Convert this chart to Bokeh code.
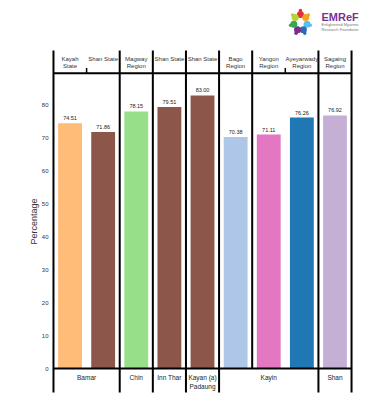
import math
from bokeh.plotting import figure
from bokeh.layouts import column
from bokeh.models import Range1d, FixedTicker
from bokeh.core.properties import value
from bokeh.embed import file_html
from bokeh.resources import INLINE

# ---- data ----
states = ["Kayah\nState", "Shan State", "Magway\nRegion", "Shan State", "Shan State",
          "Bago\nRegion", "Yangon\nRegion", "Ayeyarwady\nRegion", "Sagaing\nRegion"]
percentages = [74.51, 71.86, 78.15, 79.51, 83.00, 70.38, 71.11, 76.26, 76.92]
ethnic_groups = ["Bamar", "Bamar", "Chin", "Inn Thar", "Kayan (a)\nPadaung",
                 "Kayin", "Kayin", "Kayin", "Shan"]
bar_colors = ["#ffbb78", "#8c564b", "#98df8a", "#8c564b", "#8c564b",
              "#aec7e8", "#e377c2", "#1f77b4", "#c5b0d5"]
y_ticks = [0, 10, 20, 30, 40, 50, 60, 70, 80]

FONT = value("Liberation Sans")
n = len(percentages)
idx = list(range(n))

# ---- logo figure ----
logo = figure(width=366, height=48, x_range=Range1d(0, 366), y_range=Range1d(48, 0),
              output_backend="svg", toolbar_location=None,
              x_axis_location=None, y_axis_location=None,
              min_border=0)
logo.outline_line_color = None
logo.xgrid.visible = False
logo.ygrid.visible = False
ring_colors = ["#e0303a", "#f7a21b", "#5bc0eb", "#2b6cb0", "#7b2d8e", "#3aa655", "#b5d334"]
cx, cy, r = 297, 22, 8
xs = [cx + r * math.sin(2 * math.pi * k / 7) for k in range(7)]
ys = [cy - r * math.cos(2 * math.pi * k / 7) for k in range(7)]
logo.scatter(xs, ys, size=7, color=ring_colors, line_color=None)
xs2 = [cx + (r + 4) * math.sin(2 * math.pi * k / 7) for k in range(7)]
ys2 = [cy - (r + 4) * math.cos(2 * math.pi * k / 7) for k in range(7)]
logo.scatter(xs2, ys2, size=3.5, color=ring_colors, line_color=None)
logo.text(x=[322], y=[16], text=["EMReF"], text_font=FONT, text_font_size="11px",
          text_font_style="bold", text_color="#7b3294", text_baseline="middle")
logo.text(x=[322, 322], y=[24, 29], text=["Enlightened Myanmar", "Research Foundation"],
          text_font=FONT, text_font_size="4px", text_color="#777777", text_baseline="middle")

# ---- main chart ----
p = figure(width=366, height=346, x_range=Range1d(-0.59, 8.71), y_range=Range1d(-7.9, 97.26),
           output_backend="svg", toolbar_location=None, x_axis_location=None,
           min_border_left=50, min_border_right=8, min_border_top=0, min_border_bottom=0)
p.outline_line_color = None
p.xgrid.visible = False
p.ygrid.visible = False

p.vbar(x=idx, top=percentages, width=0.72, fill_color=bar_colors, line_color=None)

p.text(x=idx, y=percentages, text=[f"{v:.2f}" for v in percentages], text_font=FONT,
       text_font_size="5.5px", text_color="#222222", text_align="center",
       text_baseline="bottom", y_offset=-3)

# header labels
header_top = 95.1
p.text(x=idx, y=[header_top] * n, text=states, text_font=FONT, text_font_size="6px",
       text_color="#333333", text_align="center", text_baseline="top", text_line_height=1.3)

# group boundaries
bounds = [-0.5] + [i + 0.5 for i in range(n - 1) if ethnic_groups[i] != ethnic_groups[i + 1]] + [n - 0.5]
top_y, bottom_y, header_line_y = 96.66, -7.3, 89.7
p.segment(x0=bounds, y0=[bottom_y] * len(bounds), x1=bounds, y1=[top_y] * len(bounds),
          line_color="black", line_width=2)
inner_full = [5.5]
p.segment(x0=inner_full, y0=[0], x1=inner_full, y1=[top_y], line_color="black", line_width=2)
inner_ticks = [0.5, 6.5]
p.segment(x0=inner_ticks, y0=[header_line_y] * 2, x1=inner_ticks, y1=[91.3] * 2,
          line_color="black", line_width=1.5)
p.segment(x0=[-0.5, -0.5], y0=[header_line_y, 0], x1=[n - 0.5, n - 0.5], y1=[header_line_y, 0],
          line_color="black", line_width=2)

# group labels
centers, names = [], []
for a, b in zip(bounds[:-1], bounds[1:]):
    centers.append((a + b) / 2)
    names.append(ethnic_groups[int(a + 0.5)])
p.text(x=centers, y=[-1.8] * len(centers), text=names, text_font=FONT, text_font_size="6.5px",
       text_color="#222222", text_align="center", text_baseline="top", text_line_height=1.2)

ax = p.yaxis[0]
ax.ticker = FixedTicker(ticks=y_ticks)
ax.axis_line_color = None
ax.major_tick_line_color = None
ax.minor_tick_line_color = None
ax.major_tick_out = 0
ax.major_tick_in = 0
ax.major_label_standoff = 2
ax.major_label_text_font = "Liberation Sans"
ax.major_label_text_font_size = "6px"
ax.major_label_text_color = "#333333"
ax.axis_label = "Percentage"
ax.axis_label_text_font = "Liberation Sans"
ax.axis_label_text_font_size = "9px"
ax.axis_label_text_font_style = "normal"
ax.axis_label_text_color = "#333333"
ax.axis_label_standoff = 0

layout = column(logo, p, spacing=0)
open("out.html", "w").write(file_html(layout, INLINE))
